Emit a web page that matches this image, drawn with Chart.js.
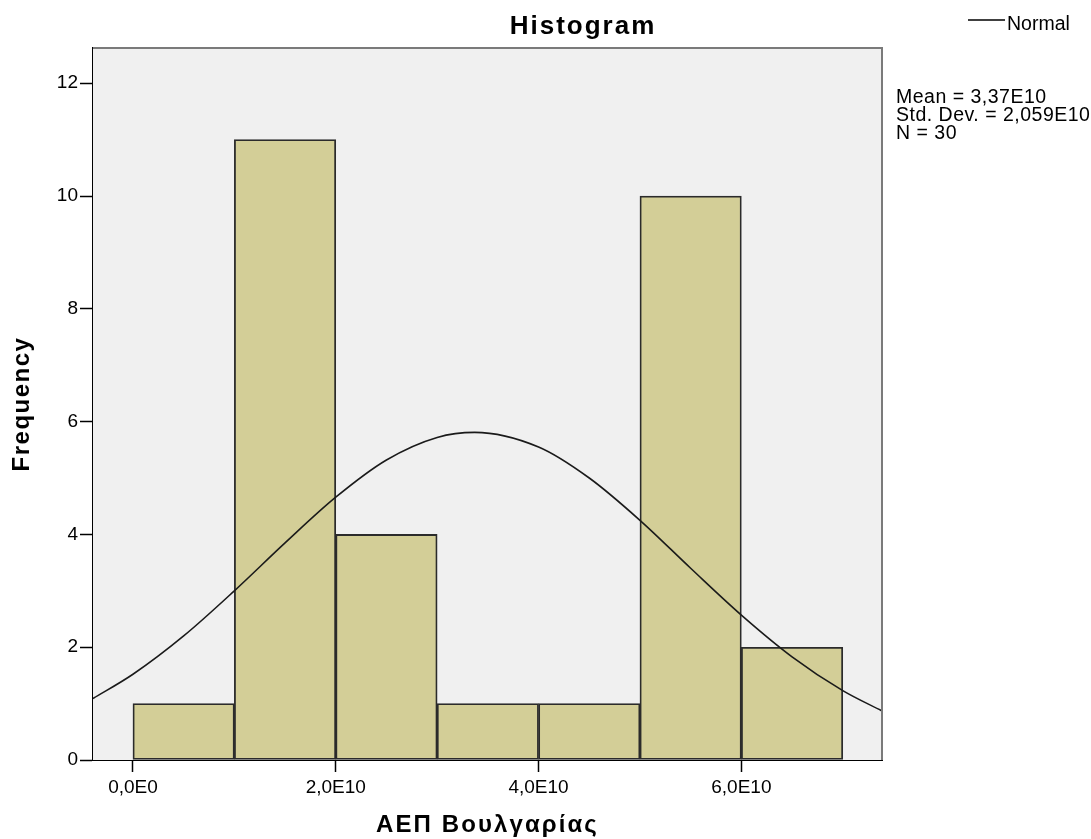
<!DOCTYPE html>
<html>
<head>
<meta charset="utf-8">
<script src="https://cdn.jsdelivr.net/npm/chart.js@4/dist/chart.umd.min.js"></script>
<style>
    html, body { margin: 0; padding: 0; background: #fff; }
    #wrap { width: 1091px; height: 839px; }
</style>
</head>
<body>
<div id="wrap"><canvas id="hist" width="1091" height="839"></canvas></div>
<script>
// 数据（x 单位：1E10）
const binStarts = [0, 1, 2, 3, 4, 5, 6];
const binWidth = 1;
const frequencies = [1, 11, 4, 1, 1, 10, 2];

// 正态曲线
const normalX = [-0.394, 0, 0.5, 1, 1.5, 2, 2.5, 3, 3.37, 4, 4.5, 5, 5.5, 6, 6.5, 7, 7.387];
const normalY = [1.09, 1.52, 2.20, 3.00, 3.85, 4.66, 5.32, 5.72, 5.81, 5.55, 5.00, 4.25, 3.40, 2.57, 1.83, 1.23, 0.87];

// 刻度
const xTickValues = [0, 2, 4, 6];
const xTickLabels = ['0,0E0', '2,0E10', '4,0E10', '6,0E10'];
const yTickValues = [0, 2, 4, 6, 8, 10, 12];

const chartTitle = 'Histogram';
const xTitle = 'ΑΕΠ Βουλγαρίας';
const yTitle = 'Frequency';
const legendLabel = 'Normal';
const statsLines = ['Mean = 3,37E10', 'Std. Dev. = 2,059E10', 'N = 30'];

const FONT = '"Liberation Sans", Arial, sans-serif';

// 绘图区背景和边框
const frameBg = {
    id: 'frameBg',
    beforeDatasetsDraw(chart) {
        const { ctx, chartArea: a } = chart;
        ctx.save();
        ctx.fillStyle = '#f0f0f0';
        ctx.fillRect(a.left, a.top, a.right - a.left, a.bottom - a.top);
        ctx.restore();
    },
    afterDraw(chart) {
        const { ctx, chartArea: a } = chart;
        ctx.save();
        ctx.strokeStyle = '#7a7a7a';
        ctx.lineWidth = 2;
        ctx.beginPath();
        ctx.moveTo(a.left, a.top);
        ctx.lineTo(a.right, a.top);
        ctx.lineTo(a.right, a.bottom);
        ctx.stroke();
        ctx.restore();
    }
};

// 标题、图例、统计文字
const labels = {
    id: 'labels',
    afterDraw(chart) {
        const { ctx, chartArea: a } = chart;
        ctx.save();
        ctx.fillStyle = '#000';

        // 标题
        ctx.font = 'bold 26px ' + FONT;
        ctx.letterSpacing = '2px';
        ctx.textAlign = 'center';
        ctx.textBaseline = 'alphabetic';
        ctx.fillText(chartTitle, 583, 34);

        // x 轴标题
        ctx.font = 'bold 24px ' + FONT;
        ctx.letterSpacing = '2.1px';
        ctx.fillText(xTitle, (a.left + a.right) / 2, 832);

        // y 轴标题
        ctx.save();
        ctx.font = 'bold 24px ' + FONT;
        ctx.letterSpacing = '1.5px';
        ctx.translate(22, (a.top + a.bottom) / 2);
        ctx.rotate(-Math.PI / 2);
        ctx.textBaseline = 'middle';
        ctx.fillText(yTitle, 0, 0);
        ctx.restore();

        // 图例
        ctx.letterSpacing = '0px';
        ctx.strokeStyle = '#000';
        ctx.lineWidth = 1.5;
        ctx.beginPath();
        ctx.moveTo(968, 20);
        ctx.lineTo(1005, 20);
        ctx.stroke();
        ctx.font = '19.5px ' + FONT;
        ctx.textAlign = 'left';
        ctx.fillText(legendLabel, 1007, 30);

        // 统计信息
        ctx.letterSpacing = '0.5px';
        statsLines.forEach((line, i) => {
            ctx.fillText(line, 896, 103 + i * 18);
        });
        ctx.restore();
    }
};

const barData = binStarts.map((s, i) => ({ x: s + binWidth / 2, y: frequencies[i] }));
const lineData = normalX.map((x, i) => ({ x: x, y: normalY[i] }));

new Chart(document.getElementById('hist').getContext('2d'), {
    type: 'bar',
    data: {
        datasets: [
            {
                type: 'line',
                label: legendLabel,
                data: lineData,
                borderColor: '#1a1a1a',
                borderWidth: 1.6,
                pointRadius: 0,
                cubicInterpolationMode: 'monotone',
                fill: false,
                order: 0
            },
            {
                label: 'Frequency',
                data: barData,
                backgroundColor: '#d3ce97',
                borderColor: '#2b2b2b',
                borderWidth: 1.8,
                borderSkipped: false,
                barPercentage: 1,
                categoryPercentage: 1,
                order: 1
            }
        ]
    },
    options: {
        responsive: false,
        animation: false,
        layout: { padding: { top: 48, right: 209, left: 0, bottom: 0 } },
        plugins: {
            legend: { display: false },
            tooltip: { enabled: false },
            title: { display: false }
        },
        scales: {
            x: {
                type: 'linear',
                min: -0.394,
                max: 7.387,
                offset: false,
                afterBuildTicks(scale) {
                    scale.ticks = xTickValues.map(v => ({ value: v }));
                },
                afterFit(scale) { scale.height = 79; },
                ticks: {
                    color: '#000',
                    font: { family: FONT, size: 19 },
                    padding: 4,
                    maxRotation: 0,
                    callback: (v) => xTickLabels[xTickValues.indexOf(v)]
                },
                grid: {
                    offset: false,
                    drawOnChartArea: false,
                    drawTicks: true,
                    tickLength: 12,
                    tickColor: '#000',
                    tickWidth: 1.5
                },
                border: { color: '#000', width: 2 }
            },
            y: {
                min: 0,
                max: 12.625,
                afterBuildTicks(scale) {
                    scale.ticks = yTickValues.map(v => ({ value: v }));
                },
                afterFit(scale) { scale.width = 93; },
                ticks: {
                    color: '#000',
                    font: { family: FONT, size: 19 },
                    padding: 2
                },
                grid: {
                    drawOnChartArea: false,
                    drawTicks: true,
                    tickLength: 13,
                    tickColor: '#000',
                    tickWidth: 1.5
                },
                border: { color: '#000', width: 2 }
            }
        }
    },
    plugins: [frameBg, labels]
});
</script>
</body>
</html>
